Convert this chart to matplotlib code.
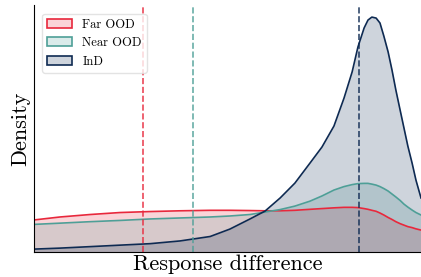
import numpy as np
import matplotlib
matplotlib.use("Agg")
import matplotlib.pyplot as plt
from matplotlib.patches import Patch

plt.rcParams['font.family'] = 'serif'
plt.rcParams['font.serif'] = ['cmr10']
plt.rcParams['mathtext.fontset'] = 'cm'
plt.rcParams['axes.formatter.use_mathtext'] = True

# response difference grid (normalised) and density estimates
x = [0.000, 0.067, 0.145, 0.222, 0.300, 0.377, 0.455, 0.506, 0.558, 0.597,
     0.636, 0.674, 0.713, 0.744, 0.775, 0.801, 0.822, 0.837, 0.853, 0.863,
     0.873, 0.884, 0.894, 0.904, 0.915, 0.925, 0.935, 0.946, 0.956, 0.966,
     0.977, 0.987, 1.000]

far_ood = [0.130, 0.142, 0.152, 0.160, 0.164, 0.167, 0.169, 0.169, 0.168, 0.167,
           0.167, 0.169, 0.173, 0.176, 0.179, 0.181, 0.181, 0.180, 0.176, 0.173,
           0.169, 0.165, 0.158, 0.150, 0.140, 0.132, 0.123, 0.115, 0.109, 0.103,
           0.099, 0.094, 0.089]
near_ood = [0.112, 0.117, 0.123, 0.128, 0.134, 0.138, 0.142, 0.146, 0.152, 0.162,
            0.172, 0.186, 0.206, 0.227, 0.251, 0.265, 0.273, 0.277, 0.278, 0.278,
            0.275, 0.271, 0.265, 0.257, 0.247, 0.235, 0.223, 0.209, 0.194, 0.182,
            0.170, 0.160, 0.150]
ind = [0.012, 0.016, 0.022, 0.028, 0.034, 0.045, 0.063, 0.093, 0.134, 0.166,
       0.219, 0.279, 0.360, 0.425, 0.510, 0.623, 0.729, 0.830, 0.907, 0.939,
       0.951, 0.947, 0.927, 0.874, 0.810, 0.737, 0.656, 0.575, 0.502, 0.429,
       0.360, 0.291, 0.219]

labels = ["Far OOD", "Near OOD", "InD"]
means = [0.282, 0.411, 0.840]
colors = ["#e8283c", "#4e9f97", "#0e2a52"]

fig = plt.figure(figsize=(4.21, 2.77), dpi=100)
ax = fig.add_axes([0.081, 0.090, 0.919, 0.892])

for dens, c in zip([far_ood, near_ood, ind], colors):
    ax.fill_between(x, dens, 0, color=c, alpha=0.2, linewidth=0)
    ax.plot(x, dens, color=c, linewidth=1.2, solid_joinstyle="round")

for m, c in zip(means, colors):
    ax.axvline(m, color=c, linestyle="--", linewidth=1.2, alpha=0.85)

ax.set_xlim(0, 1)
ax.set_ylim(0, 1)
ax.set_xticks([])
ax.set_yticks([])
for s in ["top", "right"]:
    ax.spines[s].set_visible(False)
ax.spines["left"].set_color("black")
ax.spines["bottom"].set_color("black")

ax.set_xlabel("Response difference", fontsize=16, labelpad=2)
ax.set_ylabel("Density", fontsize=16, labelpad=3)

handles = [Patch(facecolor=matplotlib.colors.to_rgba(c, 0.2), edgecolor=c, linewidth=1.2, label=l)
           for c, l in zip(colors, labels)]
ax.legend(handles=handles, loc="upper left", fontsize=9, bbox_to_anchor=(0.005, 0.99),
          framealpha=0.8, edgecolor="#dddddd")

fig.savefig("out.png", dpi=100)
